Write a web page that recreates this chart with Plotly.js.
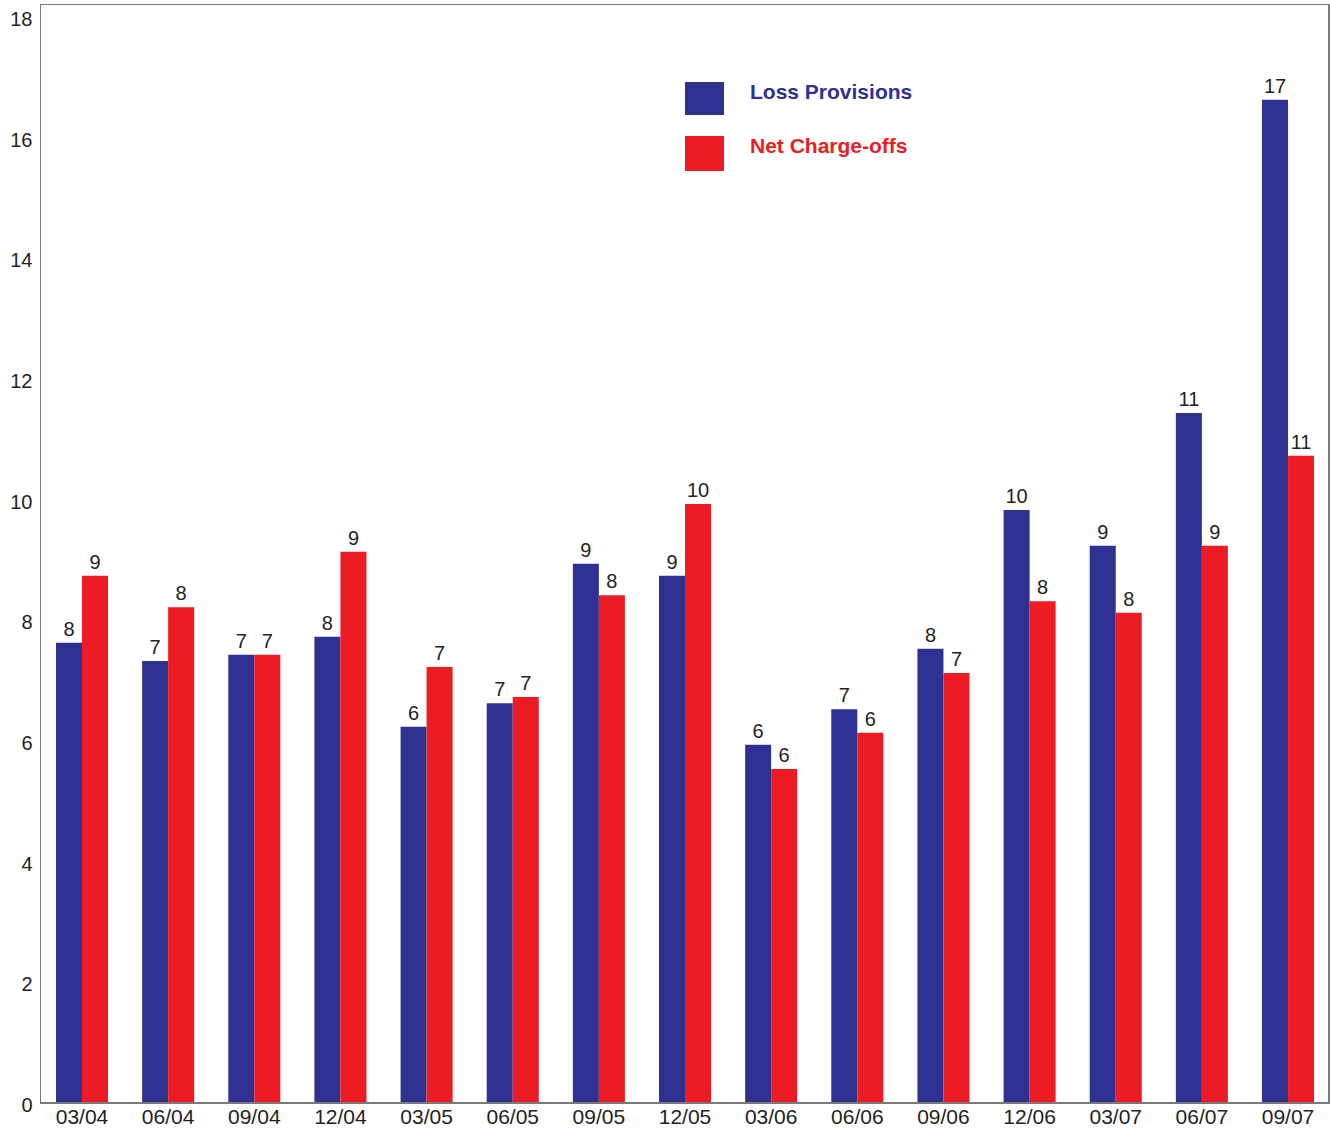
<!DOCTYPE html>
<html>
<head>
<meta charset="utf-8">
<script src="https://cdn.plot.ly/plotly-3.0.1.min.js"></script>
<style>
  html, body { margin: 0; padding: 0; background: #ffffff; }
  #chart { width: 1330px; height: 1128px; }
</style>
</head>
<body>
<div id="chart"></div>
<script>
const quarters = ['03/04','06/04','09/04','12/04','03/05','06/05','09/05','12/05','03/06','06/06','09/06','12/06','03/07','06/07','09/07'];
const lossProvisions = [7.61, 7.31, 7.41, 7.71, 6.22, 6.61, 8.92, 8.72, 5.92, 6.51, 7.51, 9.81, 9.22, 11.42, 16.61];
const netChargeOffs = [8.72, 8.20, 7.41, 9.12, 7.21, 6.71, 8.40, 9.91, 5.52, 6.12, 7.11, 8.30, 8.11, 9.22, 10.71];
const seriesNames = ['Loss Provisions', 'Net Charge-offs'];
const yTicks = [0, 2, 4, 6, 8, 10, 12, 14, 16, 18];

const BLUE = '#2E3192';
const RED = '#ED1C24';
const TXT = '#231F20';
const FONT = 'Liberation Sans, Arial, Helvetica, sans-serif';

const traces = [
  {
    type: 'bar', name: seriesNames[0], x: quarters, y: lossProvisions,
    marker: { color: BLUE, line: { width: 0 } },
    texttemplate: '%{y:.0f}', textposition: 'outside',
    textfont: { family: FONT, size: 20, color: TXT },
    cliponaxis: false, hoverinfo: 'x+y'
  },
  {
    type: 'bar', name: seriesNames[1], x: quarters, y: netChargeOffs,
    marker: { color: RED, line: { width: 0 } },
    texttemplate: '%{y:.0f}', textposition: 'outside',
    textfont: { family: FONT, size: 20, color: TXT },
    cliponaxis: false, hoverinfo: 'x+y'
  }
];

const layout = {
  width: 1330, height: 1128,
  margin: { l: 41, r: 2, t: 5, b: 26, pad: 0 },
  paper_bgcolor: '#ffffff', plot_bgcolor: '#ffffff',
  barmode: 'group', bargap: 0.396, bargroupgap: 0,
  showlegend: false,
  font: { family: FONT, size: 20, color: TXT },
  xaxis: {
    type: 'category', range: [-0.476, 14.464],
    showline: true, mirror: true, linecolor: '#7a7a7a', linewidth: 1.5,
    showgrid: false, zeroline: false, ticks: '', ticklabelstandoff: -5,
    tickfont: { family: FONT, size: 21, color: TXT }
  },
  yaxis: {
    range: [0, 18.18], tickvals: yTicks, ticktext: yTicks.map(String),
    showline: true, mirror: true, linecolor: '#7a7a7a', linewidth: 1.5,
    showgrid: false, zeroline: false, ticks: '', ticklabelstandoff: 3,
    ticklabelshift: 3,
    tickfont: { family: FONT, size: 20, color: TXT }
  },
  shapes: [
    { type: 'rect', xref: 'paper', yref: 'paper', x0: 0.5004, x1: 0.5307, y0: 0.8997, y1: 0.9298,
      fillcolor: BLUE, line: { width: 0 } },
    { type: 'rect', xref: 'paper', yref: 'paper', x0: 0.5004, x1: 0.5307, y0: 0.8487, y1: 0.8806,
      fillcolor: RED, line: { width: 0 } }
  ],
  annotations: [
    { xref: 'paper', yref: 'paper', x: 0.5501, y: 0.9207, xanchor: 'left', yanchor: 'middle',
      text: '<b>' + seriesNames[0] + '</b>', showarrow: false, borderpad: 0,
      font: { family: FONT, size: 21, color: BLUE } },
    { xref: 'paper', yref: 'paper', x: 0.5501, y: 0.8715, xanchor: 'left', yanchor: 'middle',
      text: '<b>' + seriesNames[1] + '</b>', showarrow: false, borderpad: 0,
      font: { family: FONT, size: 21, color: RED } }
  ]
};

Plotly.newPlot('chart', traces, layout, { displayModeBar: false, staticPlot: true });
</script>
</body>
</html>
